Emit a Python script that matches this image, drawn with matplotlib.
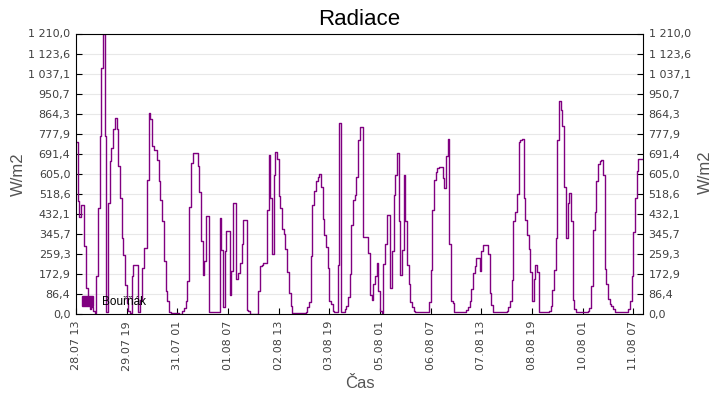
import numpy as np
import pandas as pd
import matplotlib
matplotlib.use('Agg')
import matplotlib.pyplot as plt
import matplotlib.dates as mdates
from matplotlib.ticker import FixedLocator, FuncFormatter
from matplotlib.patches import Patch

plt.rcParams['font.family'] = ['DejaVu Sans']

# hodinove hodnoty radiace (W/m2) od 28.07 13:00
radiace = [
    741, 486, 420, 471, 471, 292, 112, 60, 20, 30,
    14, 4, 162, 457, 766, 1060, 1210, 766, 10, 480,
    658, 715, 800, 845, 800, 640, 500, 330, 256, 126,
    47, 11, 4, 162, 210, 210, 210, 10, 60, 200,
    284, 284, 579, 869, 840, 723, 709, 709, 665, 572,
    493, 400, 230, 100, 55, 10, 3, 3, 3, 3,
    3, 0, 0, 14, 26, 55, 141, 461, 650, 693,
    693, 693, 637, 526, 316, 170, 227, 421, 421, 9,
    9, 9, 9, 9, 9, 414, 277, 30, 270, 356,
    356, 83, 184, 478, 478, 149, 175, 220, 300, 404,
    404, 19, 11, 0, 0, 0, 0, 0, 100, 205,
    210, 218, 218, 450, 687, 500, 260, 600, 698, 670,
    510, 457, 366, 345, 280, 180, 90, 33, 3, 3,
    3, 3, 3, 3, 3, 3, 10, 30, 52, 250,
    471, 530, 572, 592, 606, 550, 410, 342, 290, 200,
    55, 45, 12, 9, 9, 213, 823, 10, 10, 22,
    33, 72, 174, 385, 490, 514, 592, 752, 805, 805,
    331, 331, 331, 262, 80, 59, 130, 162, 220, 100,
    11, 4, 216, 300, 425, 425, 112, 270, 514, 600,
    693, 400, 170, 277, 601, 400, 210, 129, 50, 30,
    11, 10, 10, 10, 10, 10, 10, 10, 10, 50,
    190, 448, 576, 612, 629, 632, 632, 586, 543, 680,
    754, 300, 57, 46, 9, 8, 8, 8, 8, 8,
    8, 19, 30, 55, 110, 177, 205, 241, 241, 184,
    270, 299, 299, 299, 260, 90, 40, 9, 9, 9,
    9, 9, 9, 9, 9, 15, 30, 55, 148, 400,
    440, 519, 744, 750, 754, 500, 407, 340, 282, 180,
    55, 150, 210, 180, 9, 9, 9, 9, 9, 9,
    15, 35, 102, 190, 330, 749, 917, 880, 809, 550,
    330, 480, 522, 400, 60, 20, 9, 9, 9, 9,
    9, 9, 9, 15, 26, 120, 363, 438, 572, 647,
    658, 665, 600, 194, 130, 66, 45, 33, 22, 9,
    9, 9, 9, 9, 9, 9, 10, 20, 57, 162,
    353, 500, 619, 670, 670, 670,
]
cas = pd.date_range('2013-07-28 13:00', periods=len(radiace), freq='h')

ymax = 1210.0
yticks = np.linspace(0, ymax, 15)
xticks = pd.date_range('2013-07-28 13:00', '2013-08-11 07:00', freq='30h')


def cz_fmt(v, pos):
    s = f"{v:,.1f}"
    return s.replace(',', ' ').replace('.', ',')


fig = plt.figure(figsize=(7.2, 4.0), dpi=100)
ax = fig.add_axes([76/720, 1 - 314/400, 567/720, 280.5/400])

ax.plot(cas, radiace, color='#800080', lw=1.0, drawstyle='steps-post')

ax.set_ylim(0, ymax)
ax.set_xlim(cas[0], cas[0] + pd.Timedelta(hours=335.7))
ax.yaxis.set_major_locator(FixedLocator(yticks))
ax.yaxis.set_major_formatter(FuncFormatter(cz_fmt))
ax.set_xticks(xticks)
ax.xaxis.set_major_formatter(mdates.DateFormatter('%d.%m %H'))
ax.tick_params(axis='x', direction='in', labelrotation=90, labelsize=8, length=4, pad=5)
ax.tick_params(axis='y', direction='in', labelsize=8, length=4, pad=4,
               left=True, right=True, labelleft=True, labelright=True)
for lab in ax.get_xticklabels() + ax.get_yticklabels():
    lab.set_color('#404040')
ax.grid(axis='y', color='#e8e8e8', lw=0.8)
ax.set_axisbelow(True)

ax.set_title('Radiace', fontsize=16, pad=6, family='Liberation Sans')
ax.set_xlabel('Čas', fontsize=12, color='#555555', labelpad=4, family='Liberation Sans')
ax.set_ylabel('W/m2', fontsize=12, color='#555555', labelpad=2, family='Liberation Sans')
fig.text(705/720, 1 - 172/400, 'W/m2', rotation=90, fontsize=12, color='#555555',
         family='Liberation Sans', ha='center', va='center')

ax.legend(handles=[Patch(color='#800080', label='Bouřňák')], loc='lower left',
          frameon=False, prop={'family': 'Liberation Sans', 'size': 8.5},
          handlelength=0.9, handleheight=0.9,
          borderaxespad=0.2, handletextpad=0.8, borderpad=0.3)

fig.savefig('out.png', dpi=100)
